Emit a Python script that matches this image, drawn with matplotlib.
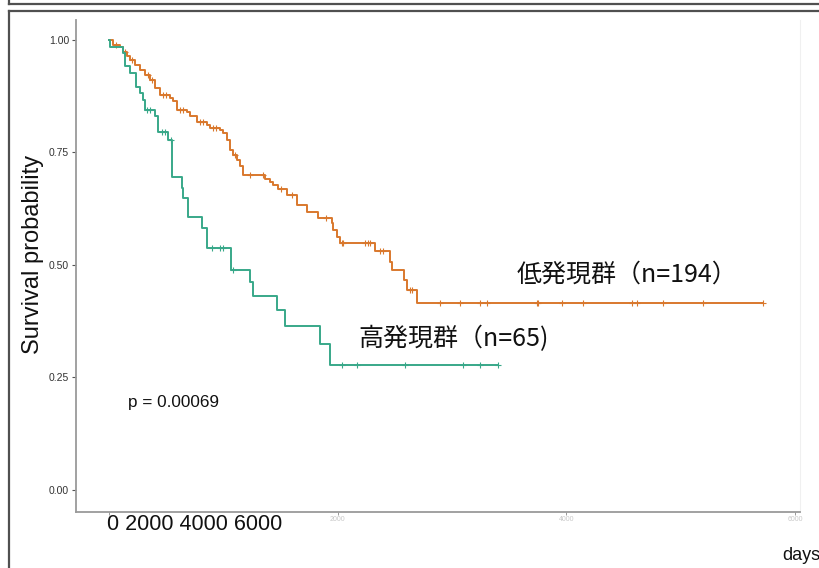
import numpy as np
import matplotlib
matplotlib.use("Agg")
import matplotlib.pyplot as plt
from matplotlib.lines import Line2D

# Kaplan-Meier curves (days, survival after each step)
low_times = [0, 38, 96, 125, 157, 184, 227, 271, 315, 359, 402, 446, 533, 562, 592,
             679, 708, 767, 854, 883, 971, 1000, 1029, 1058, 1087, 1117, 1146, 1174,
             1364, 1408, 1437, 1481, 1554, 1641, 1729, 1831, 1948, 1962, 1991, 2020,
             2326, 2457, 2472, 2580, 2603, 2696, 5722]
low_surv = [1.0, 0.989, 0.985, 0.974, 0.965, 0.956, 0.944, 0.933, 0.922, 0.911, 0.893,
            0.878, 0.870, 0.863, 0.844, 0.840, 0.830, 0.818, 0.810, 0.804, 0.800, 0.793,
            0.778, 0.756, 0.744, 0.733, 0.719, 0.700, 0.690, 0.685, 0.678, 0.668, 0.656,
            0.633, 0.618, 0.605, 0.593, 0.578, 0.563, 0.548, 0.530, 0.507, 0.489, 0.467,
            0.444, 0.415, 0.415]
low_censor = [61, 140, 200, 340, 380, 472, 498, 621, 647, 796, 822, 909, 936, 1100,
              1233, 1347, 1500, 1600, 1900, 2035, 2049, 2239, 2268, 2282, 2370, 2399,
              2632, 2650, 2895, 3069, 3244, 3303, 3740, 3754, 3959, 4148, 4571, 4615,
              4847, 5197, 5722]

high_times = [0, 9, 122, 140, 184, 236, 271, 300, 315, 402, 431, 519, 547, 635, 650,
              693, 810, 854, 1064, 1233, 1257, 1472, 1539, 1845, 1933, 3402]
high_surv = [1.0, 0.985, 0.970, 0.941, 0.926, 0.896, 0.881, 0.867, 0.844, 0.830, 0.796,
             0.778, 0.696, 0.670, 0.648, 0.606, 0.581, 0.537, 0.489, 0.463, 0.430,
             0.400, 0.364, 0.324, 0.278, 0.278]
high_censor = [330, 359, 461, 490, 540, 898, 971, 994, 1085, 2035, 2166, 2589, 3096,
               3244, 3402]

x_ticks = [0, 2000, 4000, 6000]
y_ticks = [0.0, 0.25, 0.5, 0.75, 1.0]

orange = "#D9782D"
teal = "#38A889"

W, H = 820, 568
fig = plt.figure(figsize=(W / 100, H / 100), dpi=100)
ax = fig.add_axes([76 / W, 1 - 512 / H, 724 / W, 492 / H])


def censor_y(times, surv, cens):
    idx = np.searchsorted(times, cens, side="right") - 1
    return np.array(surv)[idx]


for t, s, c, col in [(low_times, low_surv, low_censor, orange),
                     (high_times, high_surv, high_censor, teal)]:
    ax.step(t, s, where="post", color=col, lw=1.4)
    ax.plot(c, censor_y(t, s, c), ls="none", marker="+", ms=4, mew=0.8, color=col)

ax.set_xlim(-289, 6043)
ax.set_ylim(-0.049, 1.044)
ax.set_xticks(x_ticks)
# the original tick labels are faded out; "0" sits under the overlay text
ax.set_xticklabels(["" if v == 0 else str(v) for v in x_ticks])
ax.set_yticks(y_ticks)
ax.set_yticklabels(["%.2f" % v for v in y_ticks])
ax.tick_params(axis="y", length=3, width=0.8, color="#555555", labelsize=7.5,
               labelcolor="#333333", pad=2)
ax.tick_params(axis="x", length=2, width=0.6, color="#888888", labelsize=5,
               labelcolor="#c8c8c8", pad=1)
for lab in ax.get_yticklabels() + ax.get_xticklabels():
    lab.set_family("Liberation Sans")

ax.spines["left"].set_color("#9a9a9a")
ax.spines["bottom"].set_color("#9a9a9a")
ax.spines["left"].set_linewidth(1.3)
ax.spines["bottom"].set_linewidth(1.3)
ax.spines["right"].set_color("#f0f0f0")
ax.spines["top"].set_visible(False)

cjk = ["Noto Sans CJK JP", "DejaVu Sans"]


def px(x, y):
    return x / W, 1 - y / H


fig.text(*px(517, 275), "低発現群（n=194）", family=cjk, fontsize=18,
         ha="left", va="center", color="#111111")
fig.text(*px(358, 339), "高発現群（n=65)", family=cjk, fontsize=18,
         ha="left", va="center", color="#111111")
fig.text(*px(128, 402), "p = 0.00069", family="Liberation Sans", fontsize=12.3,
         ha="left", va="center", color="#111111")
fig.text(*px(33, 254), "Survival probability", family="Liberation Sans",
         fontsize=17, rotation=90, ha="center", va="center", color="#111111")
fig.text(*px(107, 525), "0 2000 4000 6000", family="Liberation Sans",
         fontsize=15.5, ha="left", va="center", color="#111111")
fig.text(*px(782, 556), "days", family="Liberation Sans", fontsize=13,
         ha="left", va="center", color="#111111")

# outer frame lines
frame = "#505050"
for xs, ys in [([9, W], [4, 4]), ([9, 9], [0, 4]), ([9, W], [11, 11]), ([9, 9], [11, H])]:
    fig.add_artist(Line2D([x / W for x in xs], [1 - y / H for y in ys],
                          color=frame, lw=1.6))

fig.savefig("out.png", dpi=100)
